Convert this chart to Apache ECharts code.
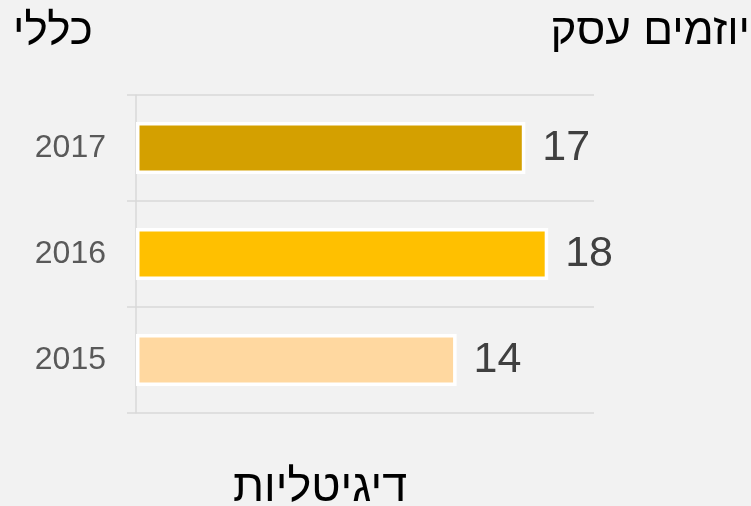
<!DOCTYPE html>
<html>
<head>
<meta charset="utf-8">
<script src="https://cdn.jsdelivr.net/npm/echarts@6/dist/echarts.min.js"></script>
<style>
html,body{margin:0;padding:0;background:#F2F2F2;}
#c{width:751px;height:506px;}
</style>
</head>
<body>
<div id="c"></div>
<script>
const categories = ['2015', '2016', '2017'];
const values = [14, 18, 17];
const barColors = ['#FFD8A0', '#FFC000', '#D4A000'];
const titleLeft = 'כללי';
const titleRight = 'יוזמים עסק';
const titleBottom = 'דיגיטליות';

const FONT = '"Liberation Sans", Arial, "DejaVu Sans", sans-serif';
const chart = echarts.init(document.getElementById('c'));
chart.setOption({
  backgroundColor: '#F2F2F2',
  animation: false,
  title: [
    { text: titleLeft, left: 13, top: 10, padding: 0, textStyle: { fontFamily: FONT, fontSize: 44, fontWeight: 'normal', color: '#000' } },
    { text: titleRight, right: 1, top: 10, padding: 0, textStyle: { fontFamily: FONT, fontSize: 44, fontWeight: 'normal', color: '#000' } },
    { text: titleBottom, left: 320, textAlign: 'center', top: 466, padding: 0, textStyle: { fontFamily: FONT, fontSize: 45, fontWeight: 'normal', color: '#000' } }
  ],
  grid: { left: 136, right: 157, top: 95, bottom: 93, containLabel: false },
  xAxis: {
    type: 'value', min: 0, max: 20, show: false
  },
  yAxis: {
    type: 'category',
    data: categories,
    axisLine: { show: true, lineStyle: { color: '#D9D9D9', width: 1.5 } },
    axisTick: { show: true, length: 9, lineStyle: { color: '#D9D9D9', width: 1.5 } },
    splitLine: { show: true, lineStyle: { color: '#D9D9D9', width: 1.5 } },
    axisLabel: { margin: 30, fontFamily: FONT, fontSize: 32, color: '#595959' }
  },
  series: [{
    type: 'bar',
    barWidth: 52,
    data: values.map((v, i) => ({ value: v, itemStyle: { color: barColors[i] } })),
    itemStyle: { borderColor: '#FFFFFF', borderWidth: 3.5 },
    label: {
      show: true, position: 'right', distance: 17,
      fontFamily: FONT, fontSize: 43, color: '#404040'
    }
  }]
});
</script>
</body>
</html>
